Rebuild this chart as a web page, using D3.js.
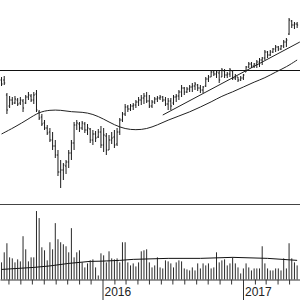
<!DOCTYPE html>
<html><head><meta charset="utf-8">
<script src="https://cdn.jsdelivr.net/npm/d3@7"></script>
<style>html,body{margin:0;padding:0;background:#fff;overflow:hidden}</style>
</head><body><svg id="c" width="300" height="300"></svg>
<script>
const firstWeek = "2015-04-13";
const high = [12.3,12.4,10.7,10.4,10.3,10.4,10.2,10.3,10.1,10.5, 10.8,10.6,10.8,11.0,9.0,8.6,8.0,7.5,7.2,6.8, 6.0,5.0,4.0,3.7,4.0,5.0,6.0,7.8,8.0,7.8, 7.9,7.8,7.6,7.2,7.0,6.9,7.1,7.4,7.2,6.7, 6.5,6.8,7.0,7.2,8.2,8.8,9.6,9.5,9.6,9.7, 10.0,10.3,10.5,10.7,10.8,10.5,10.0,10.3,10.4,10.5, 10.4,10.3,10.2,10.2,10.5,10.6,11.0,11.5,11.3,11.3, 11.5,11.7,11.8,11.6,11.5,11.4,12.3,12.5,13.0,13.0, 13.0,12.9,13.2,13.1,12.8,13.2,13.0,12.6,12.3,12.4, 12.6,13.4,13.8,13.8,13.7,14.0,14.2,14.3,15.0,14.9, 15.0,15.2,15.5,15.4,15.5,16.0,16.2,18.2,18.0,17.8, 17.8];
const low = [11.4,11.5,8.6,9.2,9.5,9.6,9.4,9.5,8.8,9.6, 10.0,9.8,9.6,8.8,8.0,7.4,7.0,6.5,5.8,5.0, 4.2,2.4,1.2,2.0,2.6,3.2,4.0,5.0,7.0,6.8, 7.0,6.7,6.5,5.7,5.5,5.8,6.2,5.2,4.8,4.5, 5.0,5.6,5.2,5.4,6.5,7.8,8.4,8.8,8.9,9.0, 9.2,9.4,9.5,9.6,9.7,9.2,9.2,9.6,9.8,10.0, 9.8,9.4,9.0,9.0,9.5,9.8,10.0,10.3,10.5,10.7, 10.8,10.8,11.0,10.9,10.7,10.7,11.3,11.8,12.3,12.4, 12.2,11.7,12.3,12.2,12.2,12.3,12.0,12.0,11.8,11.9, 12.0,12.8,13.2,13.2,13.2,13.2,13.3,13.5,14.0,14.2, 14.4,14.7,14.8,14.9,15.0,15.2,15.3,16.5,17.2,17.1, 17.2];
const open = [12.0,12.0,10.5,9.4,10.0,9.7,10.0,9.7,9.9,9.7, 10.3,10.4,10.0,10.6,8.8,8.3,7.7,7.2,6.8,6.0, 5.4,4.5,2.8,3.0,3.4,3.8,4.7,5.7,7.5,7.6, 7.2,7.6,7.0,7.1,6.0,6.6,6.3,6.8,5.5,6.4, 5.0,6.0,6.3,5.6,6.8,8.0,8.6,9.3,9.1,9.4, 9.5,9.8,10.0,10.2,10.4,9.9,9.4,9.8,10.1,10.2, 10.3,10.0,9.6,9.9,9.7,10.3,10.4,10.8,11.2,10.8, 11.1,11.3,11.4,11.5,11.2,11.0,11.4,12.1,12.3,12.8, 12.6,12.7,12.3,12.9,12.5,12.6,12.9,12.2,12.3,12.0, 12.2,12.8,13.3,13.6,13.4,13.6,13.8,14.0,14.2,14.8, 14.5,14.8,15.1,15.3,15.1,15.4,15.8,16.6,17.9,17.5, 17.6];
const close = [11.6,11.7,9.0,10.0,9.7,10.1,9.6,10.0,9.2,10.3, 10.5,10.0,10.5,9.0,8.2,7.6,7.2,6.7,6.0,5.4, 4.5,2.8,3.0,3.5,3.8,4.7,5.7,7.5,7.7,7.2, 7.7,7.0,7.2,6.0,6.6,6.2,6.8,5.5,6.5,5.0, 6.0,6.2,5.5,6.8,8.0,8.6,9.3,9.1,9.4,9.5, 9.8,10.0,10.2,10.4,9.9,9.4,9.8,10.1,10.2,10.3, 10.0,9.6,9.9,9.4,10.3,10.4,10.8,11.2,10.8,11.1, 11.3,11.4,11.6,11.2,11.0,11.3,12.1,12.3,12.8,12.6, 12.8,12.0,13.0,12.5,12.6,13.0,12.2,12.3,12.0,12.2, 12.5,13.3,13.6,13.4,13.6,13.8,14.0,14.2,14.8,14.5, 14.8,15.1,15.3,15.1,15.4,15.8,16.0,18.0,17.5,17.6, 17.5];
const volume = [170,270,360,220,210,170,200,180,430,300, 180,220,220,680,610,320,290,190,370,300, 560,400,370,350,330,270,510,220,270,290, 170,120,160,190,200,120,40,260,240,170, 280,210,200,210,170,370,370,170,140,160, 130,170,280,290,300,170,120,140,220,120, 110,190,180,160,120,170,190,180,110,100, 90,120,90,160,110,160,140,160,110,120, 270,170,190,200,140,160,220,160,120,60, 110,160,120,90,110,110,110,330,160,110, 90,90,110,110,90,210,110,360,210,170, 140];
const maIdx = [0,5,10,14,18,22,26,30,34,38,42,46,50,54,58,62,66,70,74,78,82,86,90,94,98,102,106,110];
const maVal = [6.6,7.3,8.1,8.8,9.0,9.0,8.8,8.8,8.6,8.1,7.5,7.1,7.0,7.1,7.5,8.0,8.4,8.8,9.3,9.8,10.4,10.8,11.3,11.8,12.2,12.8,13.3,14.0];
const vmaIdx = [0,12,18,25,33,37,44,49,62,74,86,99,110];
const vmaVal = [100,120,135,160,180,182,190,200,210,210,220,210,190];
const trendDates = ["2016-06-06","2017-05-29"];
const trendVals = [8.5, 15.8];
const levelValue = 13.0;
const yearAnchors = ["2016-01-01","2017-01-01"];

const parse = d3.utcParse("%Y-%m-%d");
const W = 300;
const dates = high.map((_, i) => d3.utcWeek.offset(parse(firstWeek), i));
const anchor = d3.scaleUtc().domain(yearAnchors.map(parse)).range([102.5, 243]);
const x = d3.scaleUtc().domain([anchor.invert(0), anchor.invert(W)]).range([0, W]);
const y = d3.scaleLinear().domain([0, 20]).range([200, 0]);
const yv = d3.scaleLinear().domain([0, 750]).range([279.5, 204]);

const svg = d3.select("#c");
const ink = "#1a1a1a";

// level line
svg.append("line").attr("x1", 0).attr("x2", W)
  .attr("y1", Math.round(y(levelValue)) + 0.5).attr("y2", Math.round(y(levelValue)) + 0.5)
  .attr("stroke", "#111").attr("stroke-width", 1);

// moving average
const maLine = d3.line().x(d => x(dates[d[0]])).y(d => y(d[1])).curve(d3.curveBasis);
svg.append("path").datum(maIdx.map((k, j) => [k, maVal[j]]))
  .attr("d", maLine).attr("fill", "none").attr("stroke", "#222").attr("stroke-width", 1);

// trend line
svg.append("line")
  .attr("x1", x(parse(trendDates[0]))).attr("y1", y(trendVals[0]))
  .attr("x2", x(parse(trendDates[1]))).attr("y2", y(trendVals[1]))
  .attr("stroke", "#222").attr("stroke-width", 1);

// OHLC bars
const bars = svg.append("g").attr("stroke", ink).attr("stroke-width", 1);
dates.forEach((d, i) => {
  const cx = x(d);
  bars.append("line").attr("x1", cx).attr("x2", cx).attr("y1", y(high[i])).attr("y2", y(low[i]));
  bars.append("line").attr("x1", cx - 1).attr("x2", cx).attr("y1", y(open[i])).attr("y2", y(open[i]));
  bars.append("line").attr("x1", cx).attr("x2", cx + 1).attr("y1", y(close[i])).attr("y2", y(close[i]));
});

// panel separator
svg.append("line").attr("x1", 0).attr("x2", W)
  .attr("y1", yv.range()[1] + 0.5).attr("y2", yv.range()[1] + 0.5)
  .attr("stroke", "#444").attr("stroke-width", 1);

// volume bars
svg.append("g").selectAll("line").data(volume).join("line")
  .attr("x1", (v, i) => x(dates[i])).attr("x2", (v, i) => x(dates[i]))
  .attr("y1", yv(0)).attr("y2", v => yv(v))
  .attr("stroke", "#2a2a2a").attr("stroke-width", 1);

// volume moving average
const vmaLine = d3.line().x(d => x(dates[d[0]])).y(d => yv(d[1])).curve(d3.curveLinear);
svg.append("path").datum(vmaIdx.map((k, j) => [k, vmaVal[j]]))
  .attr("d", vmaLine).attr("fill", "none").attr("stroke", "#111").attr("stroke-width", 1);

// axis
const ax = svg.append("g").attr("transform", `translate(0,${yv(0)})`)
  .call(d3.axisBottom(x).ticks(d3.utcMonth.every(1)).tickSize(5).tickSizeOuter(0)
    .tickFormat(d => d.getUTCMonth() === 0 ? d3.utcFormat("%Y")(d) : ""));
ax.select(".domain").attr("stroke", "#333");
ax.selectAll(".tick line").attr("stroke", "#333");
ax.selectAll(".tick").filter(d => d.getUTCMonth() === 0).select("line").attr("y2", 21);
ax.selectAll(".tick text")
  .attr("text-anchor", "start").attr("x", 1.5).attr("y", 16.5).attr("dy", 0)
  .attr("fill", "#222").style("font-family", "'Liberation Sans', Arial, sans-serif").style("font-size", "12px");
</script></body></html>
